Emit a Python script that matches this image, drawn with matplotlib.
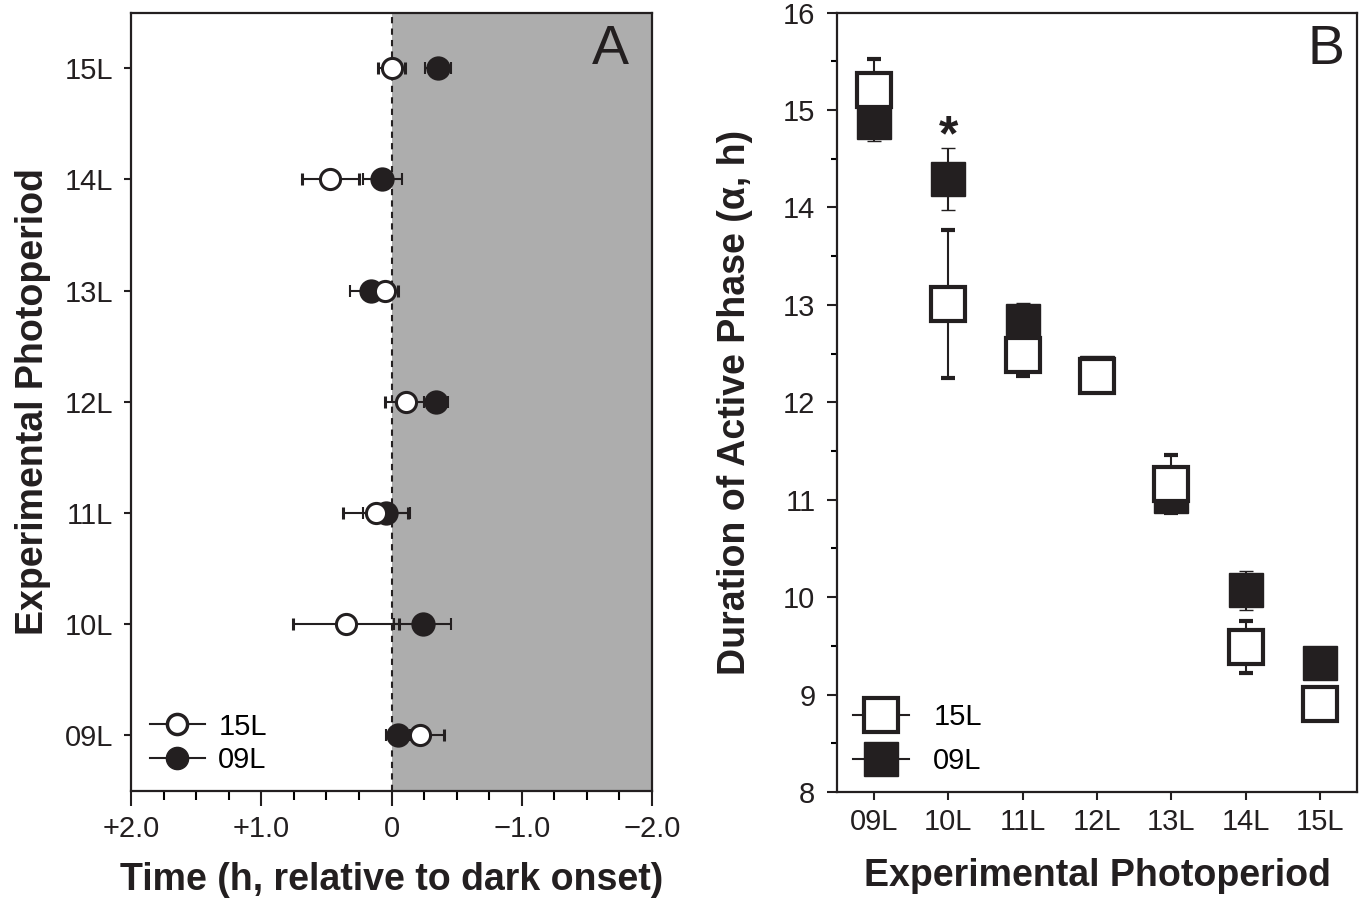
import matplotlib
matplotlib.use("Agg")
import matplotlib.pyplot as plt
from matplotlib.lines import Line2D
from matplotlib.ticker import MultipleLocator

plt.rcParams["font.family"] = ["Liberation Sans", "DejaVu Sans"]
INK = "#231f20"

# panel A: phase of activity onset relative to dark onset (h), mean +/- SE
photoperiods = ["09L", "10L", "11L", "12L", "13L", "14L", "15L"]
a_open = [-0.22, 0.35, 0.12, -0.11, 0.05, 0.47, 0.00]
a_open_err = [0.18, 0.41, 0.25, 0.16, 0.10, 0.22, 0.10]
a_fill = [-0.05, -0.24, 0.04, -0.34, 0.16, 0.07, -0.36]
a_fill_err = [0.09, 0.22, 0.18, 0.09, 0.16, 0.15, 0.10]

# panel B: duration of active phase (alpha, h)
b_open = [15.20, 13.01, 12.49, 12.27, 11.16, 9.49, 8.90]
b_open_err = [0.32, 0.76, 0.22, 0.15, 0.30, 0.27, 0.10]
b_fill = [14.88, 14.29, 12.83, 12.30, 11.04, 10.07, 9.32]
b_fill_err = [0.20, 0.32, 0.19, 0.15, 0.10, 0.20, 0.10]

W, H = 1363, 898
TICK_FS = 21
LAB_FS = 27
fig = plt.figure(figsize=(W / 100, H / 100), dpi=100)
fig.patch.set_facecolor("white")


def box(l, r, t, b):
    return [l / W, 1 - b / H, (r - l) / W, (b - t) / H]


def style(ax):
    for s in ax.spines.values():
        s.set_linewidth(1.6)
        s.set_color(INK)
    ax.tick_params(colors=INK, labelsize=TICK_FS, width=1.5, direction="out")
    ax.tick_params(which="minor", width=1.5)


# ---------------- panel A ----------------
axA = fig.add_axes(box(131, 652, 12.5, 791))
style(axA)
ypos = range(len(photoperiods))
axA.axvspan(0, -2, color="#adadad", lw=0, zorder=0)
axA.axvline(0, color=INK, ls=(0, (3, 2.5)), lw=1.5, zorder=1)
axA.errorbar(a_fill, ypos, xerr=a_fill_err, fmt="o", ms=16, mfc=INK, mec=INK,
             mew=1.5, ecolor=INK, elinewidth=1.5, capsize=4.5, capthick=1.5, zorder=3)
axA.errorbar(a_open, ypos, xerr=a_open_err, fmt="o", ms=14.5, mfc="white", mec=INK,
             mew=2.2, ecolor=INK, elinewidth=1.5, capsize=4.5, capthick=1.5, zorder=4)
axA.set_xlim(2, -2)
axA.set_ylim(-0.5, 6.5)
axA.set_xticks([2, 1, 0, -1, -2])
axA.set_xticklabels(["+2.0", "+1.0", "0", "\u22121.0", "\u22122.0"])
axA.set_xticks([1.5, 0.5, -0.5, -1.5, 1.75, 1.25, 0.75, 0.25,
                -0.25, -0.75, -1.25, -1.75], minor=True)
axA.tick_params(axis="x", which="major", length=10.5, pad=7)
axA.tick_params(axis="x", which="minor", length=6.5)
axA.set_yticks(list(ypos))
axA.set_yticklabels(photoperiods)
axA.tick_params(axis="y", length=5, pad=8)
axA.set_xlabel("Time (h, relative to dark onset)", fontsize=LAB_FS, fontweight="bold",
               color=INK, va="baseline")
axA.xaxis.set_label_coords(0.5, -0.1272)
axA.set_ylabel("Experimental Photoperiod", fontsize=LAB_FS, fontweight="bold",
               color=INK, va="baseline")
axA.yaxis.set_label_coords(-0.169, 0.5)
axA.text(0.955, 0.985, "A", transform=axA.transAxes, ha="right", va="top",
         fontsize=40, color=INK)
hA = [Line2D([], [], color=INK, lw=1.5, marker="o", ms=14.5, mfc="white", mec=INK, mew=2.5),
      Line2D([], [], color=INK, lw=1.5, marker="o", ms=16, mfc=INK, mec=INK)]
axA.legend(hA, ["15L", "09L"], loc="lower left", frameon=False, fontsize=TICK_FS,
           handlelength=1.9, handletextpad=0.45, labelspacing=0.18,
           borderaxespad=0.0, borderpad=0.0, bbox_to_anchor=(0.036, 0.022))

# ---------------- panel B ----------------
axB = fig.add_axes(box(837, 1357, 12.5, 792))
style(axB)
xpos = range(len(photoperiods))
axB.errorbar(xpos, b_fill, yerr=b_fill_err, fmt="s", ms=24, mfc=INK, mec=INK,
             mew=1, ecolor=INK, elinewidth=1.5, capsize=4.8, capthick=1.5, zorder=3)
axB.errorbar(xpos, b_open, yerr=b_open_err, fmt="s", ms=25, mfc="white", mec=INK,
             mew=3, ecolor=INK, elinewidth=1.5, capsize=4.8, capthick=1.5, zorder=4)
axB.text(1, 14.72, "*", ha="center", va="center", fontsize=36, fontweight="bold", color=INK)
axB.set_xlim(-0.5, 6.5)
axB.set_ylim(8, 16)
axB.set_xticks(list(xpos))
axB.set_xticklabels(photoperiods)
axB.yaxis.set_major_locator(MultipleLocator(1))
axB.yaxis.set_minor_locator(MultipleLocator(0.5))
axB.tick_params(axis="y", which="major", length=7.5, pad=8)
axB.tick_params(axis="y", which="minor", length=4)
axB.tick_params(axis="x", length=5.5, pad=6)
axB.set_xlabel("Experimental Photoperiod", fontsize=LAB_FS, fontweight="bold",
               color=INK, va="baseline")
axB.xaxis.set_label_coords(0.5, -0.1206)
axB.set_ylabel("Duration of Active Phase (\u03b1, h)", fontsize=LAB_FS, fontweight="bold",
               color=INK, va="baseline")
axB.yaxis.set_label_coords(-0.177, 0.5)
axB.text(0.975, 0.985, "B", transform=axB.transAxes, ha="right", va="top",
         fontsize=40, color=INK)
hB = [Line2D([], [], color=INK, lw=1.5, marker="s", ms=25, mfc="white", mec=INK, mew=3),
      Line2D([], [], color=INK, lw=1.5, marker="s", ms=24, mfc=INK, mec=INK, mew=1)]
axB.legend(hB, ["15L", "09L"], loc="lower left", frameon=False, fontsize=TICK_FS,
           handlelength=1.9, handletextpad=0.85, labelspacing=0.55,
           borderaxespad=0.0, borderpad=0.0, bbox_to_anchor=(0.031, 0.022))

fig.savefig("out.png", dpi=100, facecolor="white")
